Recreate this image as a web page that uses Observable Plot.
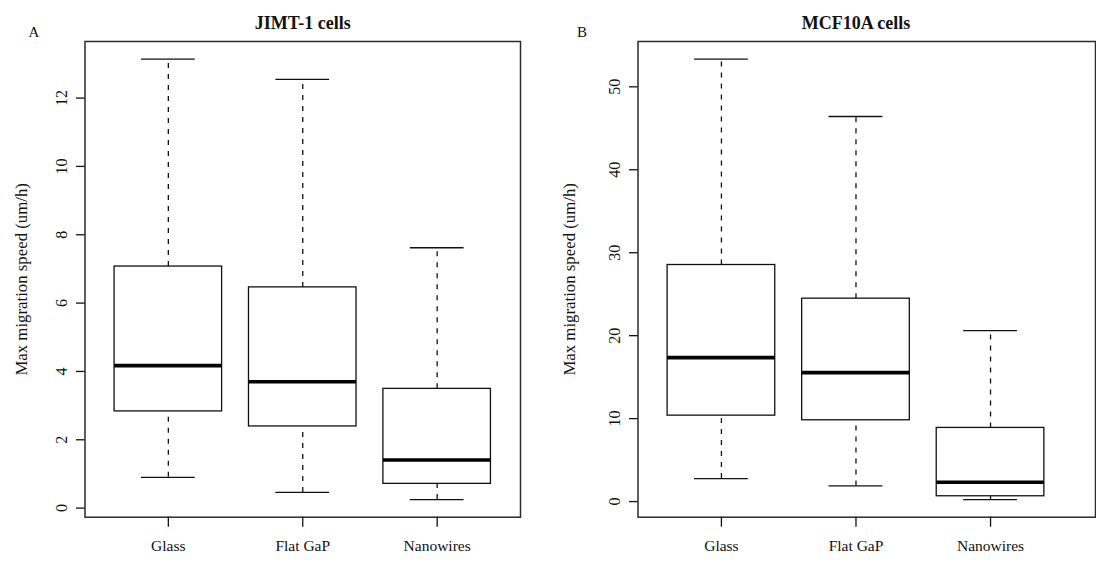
<!DOCTYPE html>
<html>
<head>
<meta charset="utf-8">
<script src="https://cdn.jsdelivr.net/npm/d3@7"></script>
<script src="https://cdn.jsdelivr.net/npm/@observablehq/plot@0.6"></script>
<style>
  html, body { margin: 0; padding: 0; background: white; }
  #wrap { display: flex; width: 1096px; height: 563px; overflow: hidden; }
  #wrap svg { flex: none; }
  #wrap svg, #wrap svg text, #wrap svg g { font-family: "Liberation Serif", "Times New Roman", serif !important; }
</style>
</head>
<body>
<div id="wrap"></div>
<script>
// ---- data ----
const categories = ["Glass", "Flat GaP", "Nanowires"];

const jimtTitle = "JIMT-1 cells";
const jimtLow    = [0.90, 0.46, 0.25];
const jimtQ1     = [2.83, 2.39, 0.71];
const jimtMedian = [4.17, 3.70, 1.41];
const jimtQ3     = [7.07, 6.46, 3.49];
const jimtHigh   = [13.14, 12.55, 7.62];
const jimtTicks  = [0, 2, 4, 6, 8, 10, 12];

const mcfTitle = "MCF10A cells";
const mcfLow    = [2.77, 1.89, 0.24];
const mcfQ1     = [10.36, 9.80, 0.64];
const mcfMedian = [17.35, 15.54, 2.33];
const mcfQ3     = [28.52, 24.46, 8.88];
const mcfHigh   = [53.34, 46.42, 20.60];
const mcfTicks  = [0, 10, 20, 30, 40, 50];

const yLabel = "Max migration speed (um/h)";

function rowsOf(low, q1, median, q3, high) {
  return categories.map((category, i) => ({
    pos: i + 1, category,
    low: low[i], q1: q1[i], median: median[i], q3: q3[i], high: high[i]
  }));
}

const serif = "Liberation Serif";

function panel({rows, ticks, title, letter, marginLeft, marginRight, xDomain}) {
  const lo = d3.min(rows, d => d.low), hi = d3.max(rows, d => d.high);
  const pad = (hi - lo) * 0.04;
  const ink = "#111";
  return Plot.plot({
    width: 548,
    height: 563,
    marginTop: 41,
    marginBottom: 46.3,
    marginLeft,
    marginRight,
    style: {background: "white", fontFamily: serif, fontSize: "16px", color: ink, overflow: "visible"},
    x: {domain: xDomain, label: null},
    y: {domain: [lo - pad, hi + pad], label: null},
    marks: [
      // whiskers
      Plot.ruleX(rows, {x: "pos", y1: "q3", y2: "high", stroke: ink, strokeWidth: 1.3, strokeDasharray: "5,6"}),
      Plot.ruleX(rows, {x: "pos", y1: "low", y2: "q1", stroke: ink, strokeWidth: 1.3, strokeDasharray: "5,6"}),
      // caps
      Plot.ruleY(rows, {y: "high", x1: d => d.pos - 0.2, x2: d => d.pos + 0.2, stroke: ink, strokeWidth: 1.3}),
      Plot.ruleY(rows, {y: "low", x1: d => d.pos - 0.2, x2: d => d.pos + 0.2, stroke: ink, strokeWidth: 1.3}),
      // boxes
      Plot.rect(rows, {x1: d => d.pos - 0.4, x2: d => d.pos + 0.4, y1: "q1", y2: "q3", fill: "white", stroke: ink, strokeWidth: 1.3}),
      // medians
      Plot.ruleY(rows, {y: "median", x1: d => d.pos - 0.4, x2: d => d.pos + 0.4, stroke: "black", strokeWidth: 3.6}),
      // frame
      Plot.frame({stroke: "#2a2a2a", strokeWidth: 1.5}),
      // axes
      Plot.axisX({ticks: categories.map((c, i) => i + 1), tickFormat: v => categories[v - 1], tickSize: 10, tickPadding: 13, strokeWidth: 1.3, fontSize: 15.5, fontFamily: serif, label: null}),
      Plot.axisY({ticks, tickRotate: -90, tickSize: 8.5, tickPadding: 9.5, strokeWidth: 1.3, fontSize: 16, fontFamily: serif, label: null}),
      // y axis title
      Plot.text([yLabel], {text: d => d, frameAnchor: "left", textAnchor: "middle", rotate: -90, dx: -(marginLeft - 21), fontSize: 16.8, fontFamily: serif, fill: ink}),
      // panel title
      Plot.text([title], {text: d => d, x: () => 2, frameAnchor: "top", lineAnchor: "bottom", dy: -13, fontSize: 18, fontWeight: "bold", fontFamily: serif, fill: ink}),
      // panel letter
      Plot.text([letter], {text: d => d, frameAnchor: "top-left", lineAnchor: "bottom", textAnchor: "middle", dx: 33.5 - marginLeft, dy: -4.3, fontSize: 15, fontFamily: serif, fill: ink})
    ]
  });
}

const wrap = document.getElementById("wrap");
wrap.append(panel({
  rows: rowsOf(jimtLow, jimtQ1, jimtMedian, jimtQ3, jimtHigh),
  ticks: jimtTicks, title: jimtTitle, letter: "A",
  marginLeft: 84.5, marginRight: 28, xDomain: [0.38, 3.62]
}));
wrap.append(panel({
  rows: rowsOf(mcfLow, mcfQ1, mcfMedian, mcfQ3, mcfHigh),
  ticks: mcfTicks, title: mcfTitle, letter: "B",
  marginLeft: 89.5, marginRight: 1, xDomain: [0.38, 3.78]
}));
</script>
</body>
</html>
